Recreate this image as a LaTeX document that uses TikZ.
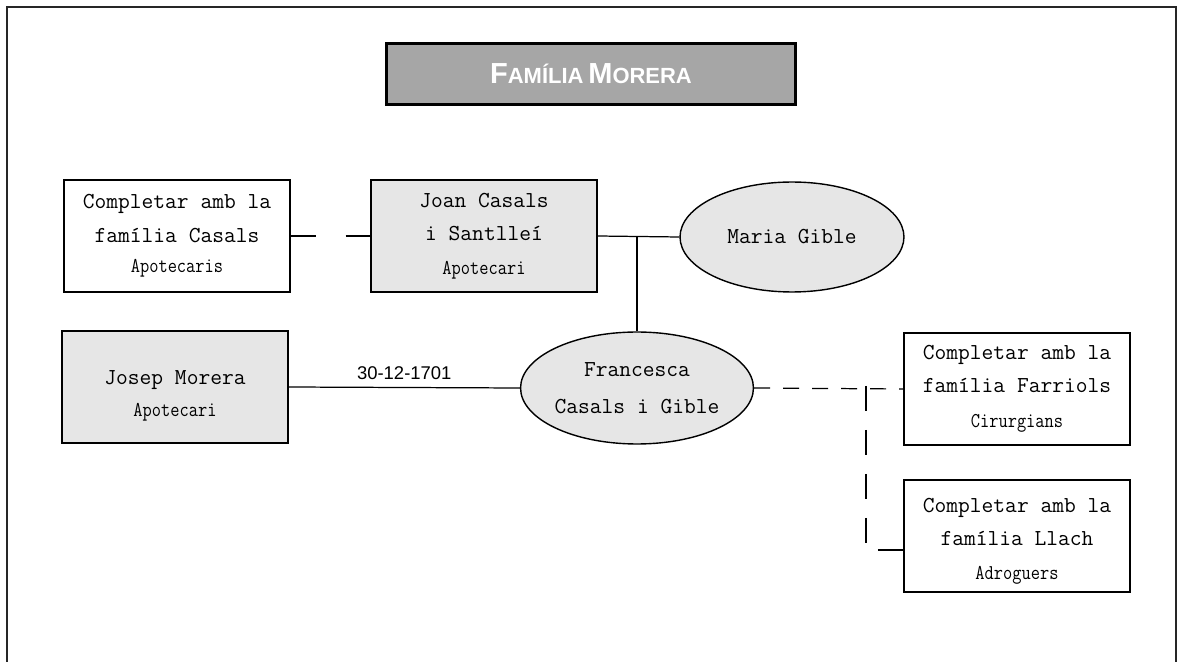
\documentclass[tikz,border=0pt]{standalone}
\usepackage{fontspec}
\usepackage{graphicx}
\newfontfamily\titlefont{Liberation Sans}
\usetikzlibrary{shapes.geometric}

\definecolor{boxgray}{HTML}{E6E6E6}
\definecolor{titlegray}{HTML}{A6A6A6}

\newcommand{\ofici}[1]{\scalebox{0.85}[1]{\fontsize{12}{14}\selectfont #1}}

\tikzset{
  person/.style={draw, line width=0.8pt, fill=boxgray, minimum width=4.52cm, minimum height=2.24cm,
    align=center, inner sep=0pt, font=\fontsize{13}{19}\ttfamily},
  family/.style={person, fill=white},
  spouse/.style={draw, line width=0.8pt, ellipse, fill=boxgray, inner sep=0pt,
    align=center, font=\fontsize{13}{21}\ttfamily},
  link/.style={line width=0.7pt},
  longdash/.style={link, dash pattern=on 0.5cm off 0.6cm},
  shortdash/.style={link, dash pattern=on 0.32cm off 0.26cm}
}

\begin{document}
\begin{tikzpicture}[x=0.02cm, y=-0.02cm]
    \useasboundingbox (0,0) rectangle (1178,662);
    % outer frame, open at the bottom
    \draw[line width=1.2pt, black!85] (7,662) -- (7,7) -- (1176,7) -- (1176,662);

    % title
    \node[draw, line width=1.7pt, fill=titlegray, minimum width=8.2cm, minimum height=1.22cm,
      text=white, font=\titlefont\bfseries] (title) at (591,74)
      {{\fontsize{16.5}{18}\selectfont F}{\fontsize{12.5}{14}\selectfont AMÍLIA}
       {\fontsize{16.5}{18}\selectfont M}{\fontsize{12.5}{14}\selectfont ORERA}};

    % first generation
    \node[family] (casals) at (177,236) {Completar amb la\\família Casals\\[-1.5pt]\ofici{Apotecaris}};
    \node[person] (joan) at (484,236) {Joan Casals\\i Santlleí\\\ofici{Apotecari}};
    \node[spouse, minimum width=4.48cm, minimum height=2.2cm] (maria) at (792,237) {Maria Gible};

    % second generation
    \node[person] (josep) at (175,387) {\rule{0pt}{18pt}Josep Morera\\[-1pt]\ofici{Apotecari}};
    \node[spouse, minimum width=4.5cm, minimum height=2.24cm] (franc) at (637,388)
      {Francesca\\Casals i Gible};

    % related families
    \node[family] (farriols) at (1017,389) {Completar amb la\\família Farriols\\[1pt]\ofici{Cirurgians}};
    \node[family] (llach) at (1017,536) {\rule{0pt}{14pt}Completar amb la\\família Llach\\\ofici{Adroguers}};

    % connectors
    \draw[longdash] (casals.east) -- (joan.west);
    \draw[link] (joan.east) -- (maria.west);
    \draw[link] (franc.north) -- (franc.north |- joan.east);
    \draw[link] (josep.east) -- node[above, font=\titlefont\fontsize{10.5}{12}\selectfont, yshift=1pt] {30-12-1701} (franc.west);
    \draw[shortdash] (franc.east) -- (farriols.west);
    \coordinate (fork) at (866,386);
    \coordinate (llachin) at (llach.west |- 0,550);
    \draw[link, dash pattern=on 0.5cm off 0.38cm] (fork) |- (llachin);
\end{tikzpicture}
\end{document}
